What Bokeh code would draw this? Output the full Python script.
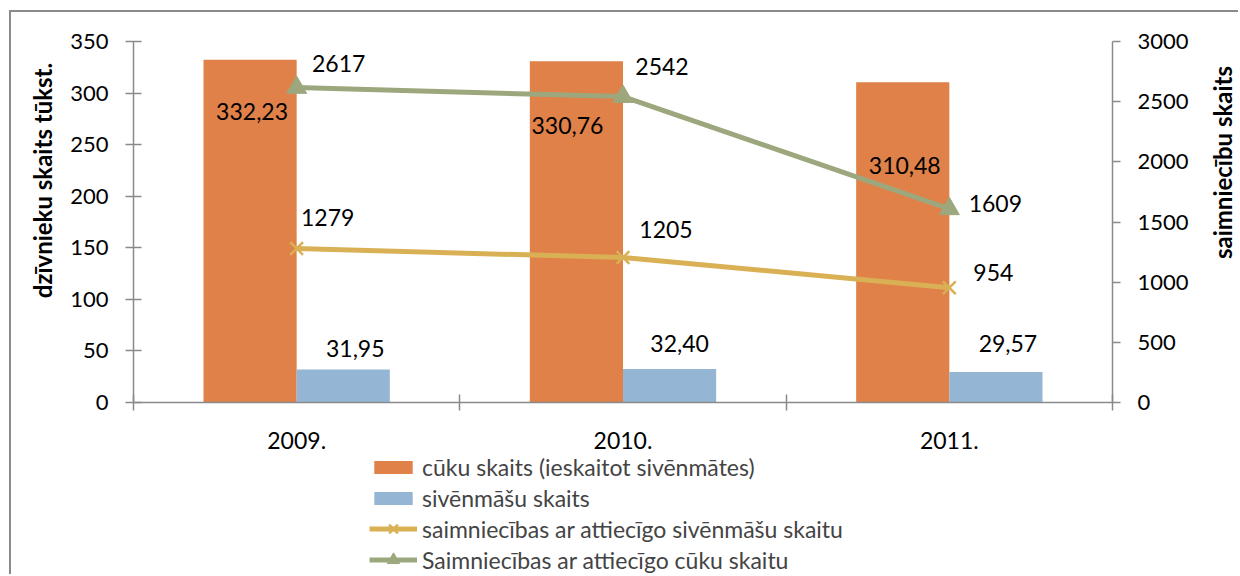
import math
import numpy as np
from bokeh.plotting import figure
from bokeh.models import (Range1d, LinearAxis, FixedTicker, Legend, LegendItem,
                          ColumnDataSource, Label)
from bokeh.core.properties import value
from bokeh.embed import file_html
from bokeh.resources import INLINE

# ---- data ----
years = ["2009.", "2010.", "2011."]
pigs = [332.23, 330.76, 310.48]          # cūku skaits (tūkst.)
sows = [31.95, 32.40, 29.57]             # sivēnmāšu skaits (tūkst.)
farms_sows = [1279, 1205, 954]           # saimniecības ar sivēnmātēm
farms_pigs = [2617, 2542, 1609]          # saimniecības ar cūkām

left_ticks = [0, 50, 100, 150, 200, 250, 300, 350]
right_ticks = [0, 500, 1000, 1500, 2000, 2500, 3000]
LEFT_MAX = 350
RIGHT_MAX = 3000
left_title = "dzīvnieku skaits tūkst."
right_title = "saimniecību skaits"

# ---- styles / layout (page pixels) ----
FONT = "Lato"
ORANGE = "#DF8149"
BLUE = "#95B5D5"
YELLOW = "#D9B054"
GREEN = "#9DA77D"
AXIS = "#8a8a8a"
BAR_W = 0.2855

PAGE_W, PAGE_H = 1240, 576
ORG_X, ORG_Y = 11, 12                # canvas origin (inside the outer border)
AX_L, AX_R, AX_T, AX_B = 133, 1112, 41, 402   # plot area
W, H = PAGE_W - ORG_X, PAGE_H - ORG_Y

n = len(years)
xpp = n / (AX_R - AX_L)
ypp_l = LEFT_MAX / (AX_B - AX_T)
ypp_r = RIGHT_MAX / (AX_B - AX_T)

# label offsets in screen px (dx, dy; dy positive = down)
pig_off = [(2, 52), (-9, 64), (2, 83)]
sow_off = [(12, -21), (10, -26), (12, -29)]
fp_off = [(42, -24), (39, -30), (46, -5)]
fs_off = [(31, -31), (43, -28), (44, -15)]

xc = np.arange(n) + 0.5

p = figure(width=W, height=H, output_backend="svg", toolbar_location=None, title=None,
           x_range=Range1d(-(AX_L - ORG_X) * xpp, n + (PAGE_W - AX_R) * xpp),
           y_range=Range1d(-(PAGE_H - AX_B) * ypp_l, LEFT_MAX + (AX_T - ORG_Y) * ypp_l),
           min_border_left=0, min_border_top=0, min_border_right=0,
           min_border_bottom=0)
p.styles = {"margin-left": f"{ORG_X - 2}px", "margin-top": f"{ORG_Y - 2}px",
            "border-left": f"2px solid {AXIS}", "border-top": f"2px solid {AXIS}"}
p.extra_y_ranges = {"r": Range1d(-(PAGE_H - AX_B) * ypp_r,
                                 RIGHT_MAX + (AX_T - ORG_Y) * ypp_r)}
p.outline_line_color = None
p.grid.visible = False
p.background_fill_color = "white"
p.border_fill_color = "white"

# x axis (drawn at value 0)
xa = p.xaxis[0]
xa.fixed_location = 0
xa.bounds = (0, n)
xa.ticker = FixedTicker(ticks=list(xc), minor_ticks=list(range(n + 1)))
xa.major_label_overrides = {float(x): y for x, y in zip(xc, years)}
xa.major_tick_out = 0
xa.major_tick_in = 0
xa.minor_tick_out = 8
xa.minor_tick_in = 8
xa.minor_tick_line_color = AXIS
xa.minor_tick_line_width = 1.5
xa.axis_line_color = AXIS
xa.axis_line_width = 1.5
xa.major_label_standoff = 21
xa.major_label_text_font = FONT
xa.major_label_text_font_size = "23px"
xa.major_label_text_color = "black"

# left axis
ya = p.yaxis[0]
ya.fixed_location = 0
ya.ticker = FixedTicker(ticks=left_ticks)
ya.bounds = (0, LEFT_MAX)
ya.major_tick_in = 8
ya.major_tick_out = 8
ya.minor_tick_line_color = None
ya.major_tick_line_color = AXIS
ya.major_tick_line_width = 1.5
ya.axis_line_color = AXIS
ya.axis_line_width = 1.5
ya.major_label_standoff = 17
ya.major_label_text_font = FONT
ya.major_label_text_font_size = "22px"
ya.major_label_text_color = "black"

# right axis
ra = LinearAxis(y_range_name="r", ticker=FixedTicker(ticks=right_ticks))
ra.fixed_location = n
ra.bounds = (0, RIGHT_MAX)
ra.major_tick_in = 0
ra.major_tick_out = 8
ra.minor_tick_line_color = None
ra.major_tick_line_color = AXIS
ra.major_tick_line_width = 1.5
ra.axis_line_color = AXIS
ra.axis_line_width = 1.5
ra.major_label_standoff = 17
ra.major_label_text_font = FONT
ra.major_label_text_font_size = "22px"
ra.major_label_text_color = "black"
p.add_layout(ra, "right")

# axis titles (screen units from frame bottom-left)
for txt, sx, sy in [(left_title, 42 - ORG_X, PAGE_H - 180),
                    (right_title, 1222 - ORG_X, PAGE_H - 162)]:
    p.add_layout(Label(x=sx, y=sy, x_units="screen", y_units="screen", text=txt,
                       angle=math.pi / 2, text_align="center", text_baseline="middle",
                       text_font=FONT, text_font_style="bold", text_font_size="24px",
                       text_color="black"))

# bars
r_pig = p.vbar(x=xc - BAR_W / 2, top=pigs, width=BAR_W, color=ORANGE, line_color=None)
r_sow = p.vbar(x=xc + BAR_W / 2, top=sows, width=BAR_W, color=BLUE, line_color=None)

# lines
l_fs = p.line(xc, farms_sows, y_range_name="r", color=YELLOW, line_width=5)
m_fs = p.scatter(xc, farms_sows, y_range_name="r", marker="x", size=18,
                 line_color=YELLOW, line_width=2.5)
l_fp = p.line(xc, farms_pigs, y_range_name="r", color=GREEN, line_width=5)
m_fp = p.scatter(xc, farms_pigs, y_range_name="r", marker="triangle", size=20,
                 fill_color=GREEN, line_color=GREEN)

def fmt2(v):
    return f"{v:.2f}".replace(".", ",")

def add_labels(xs, ys, texts, offs, rng=None):
    src = ColumnDataSource(dict(x=list(xs), y=list(ys), t=texts,
                                dx=[o[0] for o in offs], dy=[o[1] for o in offs]))
    kw = {"y_range_name": rng} if rng else {}
    p.text(x="x", y="y", text="t", x_offset="dx", y_offset="dy", source=src,
           text_align="center", text_baseline="middle",
           text_font=value(FONT), text_font_size="23px", text_color="black", **kw)

add_labels(xc - BAR_W / 2, pigs, [fmt2(v) for v in pigs], pig_off)
add_labels(xc + BAR_W / 2, sows, [fmt2(v) for v in sows], sow_off)
add_labels(xc, farms_pigs, [str(v) for v in farms_pigs], fp_off, "r")
add_labels(xc, farms_sows, [str(v) for v in farms_sows], fs_off, "r")

ROW_H = 31
LEG_X = 369 - ORG_X

def make_legend(items, y, glyph_h):
    lg = Legend(items=items, location=(LEG_X, y))
    lg.label_text_font = FONT
    lg.label_text_font_size = "23px"
    lg.label_height = ROW_H
    lg.glyph_height = glyph_h
    lg.glyph_width = 48
    lg.spacing = 0
    lg.padding = 0
    lg.margin = 0
    lg.label_standoff = 5
    lg.border_line_color = None
    lg.background_fill_alpha = 0
    p.add_layout(lg, "center")

make_legend([
    LegendItem(label="cūku skaits (ieskaitot sivēnmātes)", renderers=[r_pig]),
    LegendItem(label="sivēnmāšu skaits", renderers=[r_sow]),
], 1 + 2 * ROW_H, 16)
make_legend([
    LegendItem(label="saimniecības ar attiecīgo sivēnmāšu skaitu", renderers=[l_fs, m_fs]),
    LegendItem(label="Saimniecības ar attiecīgo cūku skaitu", renderers=[l_fp, m_fp]),
], 1, ROW_H)

open("out.html", "w").write(file_html(p, INLINE))
